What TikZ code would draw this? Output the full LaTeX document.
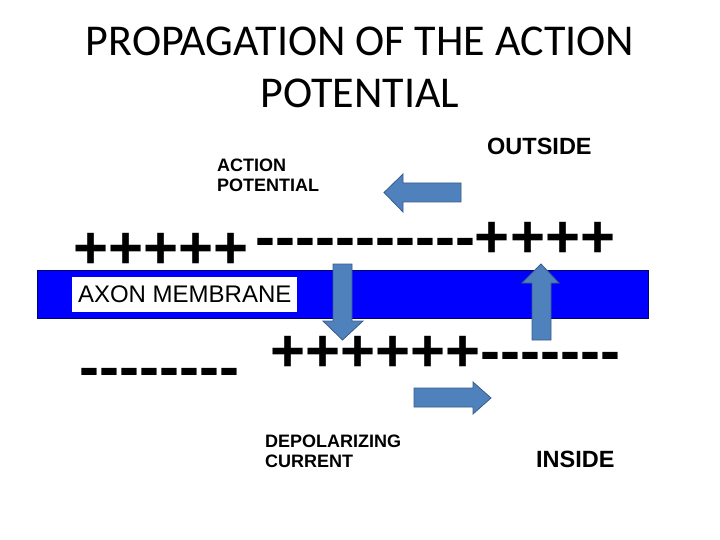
\documentclass[tikz,border=0pt]{standalone}
\usepackage{fontspec}
\setmainfont{Liberation Sans}
\newfontfamily\titlefont{Carlito}
\newfontfamily\chargefont{Liberation Sans}[Ligatures=TeXOff]
\definecolor{arrowblue}{RGB}{79,129,189}
\definecolor{arrowedge}{RGB}{56,93,138}
\definecolor{membraneblue}{RGB}{0,0,255}
\definecolor{membraneedge}{RGB}{0,0,110}

\begin{document}
\begin{tikzpicture}[x=1pt,y=-1pt]
\tikzset{charges/.style={anchor=base west,inner sep=0pt,font=\chargefont\fontsize{60}{60}\selectfont\bfseries},
         smalllabel/.style={anchor=base west,inner sep=0pt,align=left,font=\fontsize{18}{20}\selectfont\bfseries},
         sidelabel/.style={anchor=base west,inner sep=0pt,font=\fontsize{23.5}{28}\selectfont\bfseries},
         titleline/.style={anchor=base,inner sep=0pt,font=\titlefont\fontsize{44}{52}\selectfont},
         blockarrow/.style={fill=arrowblue,draw=arrowedge,line width=0.8pt,line join=miter}}
\useasboundingbox (0,0) rectangle (720,540);
\node[titleline](title1) at (360,56){PROPAGATION OF THE ACTION};
\node[titleline](title2) at (360,108){POTENTIAL};
\node[smalllabel](aplabel) at (217,192){ACTION\\POTENTIAL};
\node[sidelabel](outside) at (487,155){OUTSIDE};
% membrane
\draw[fill=membraneblue,draw=membraneedge,line width=0.8pt](37,270) rectangle (648,318);
\node[fill=white,anchor=west,minimum width=225pt,minimum height=35pt,inner xsep=5pt,inner ysep=0pt,
      font=\fontsize{24}{28}\selectfont](membrane) at (72,294.5){AXON MEMBRANE};
% charges
\node[charges](plustop) at (73,268){+++++};
\node[charges](minustop) at (255,258){-----------++++};
\node[charges](minusbottom) at (79,387){--------};
\node[charges](plusbottom) at (270,371){++++++-------};
% arrows
\draw[blockarrow] (461,183) -- (403,183) -- (403,174) -- (384,192.5) -- (403,212) -- (403,202) -- (461,202) -- cycle;
\draw[blockarrow] (333,264) -- (352,264) -- (352,321) -- (363,321) -- (342.5,340) -- (323,321) -- (333,321) -- cycle;
\draw[blockarrow] (532,340) -- (532,283) -- (522,283) -- (541,264) -- (559,283) -- (551,283) -- (551,340) -- cycle;
\draw[blockarrow] (414,388) -- (473,388) -- (473,382) -- (491,398) -- (473,414) -- (473,407) -- (414,407) -- cycle;
\node[smalllabel](current) at (265,467){DEPOLARIZING\\CURRENT};
\node[sidelabel](inside) at (536,467){INSIDE};
\end{tikzpicture}
\end{document}
